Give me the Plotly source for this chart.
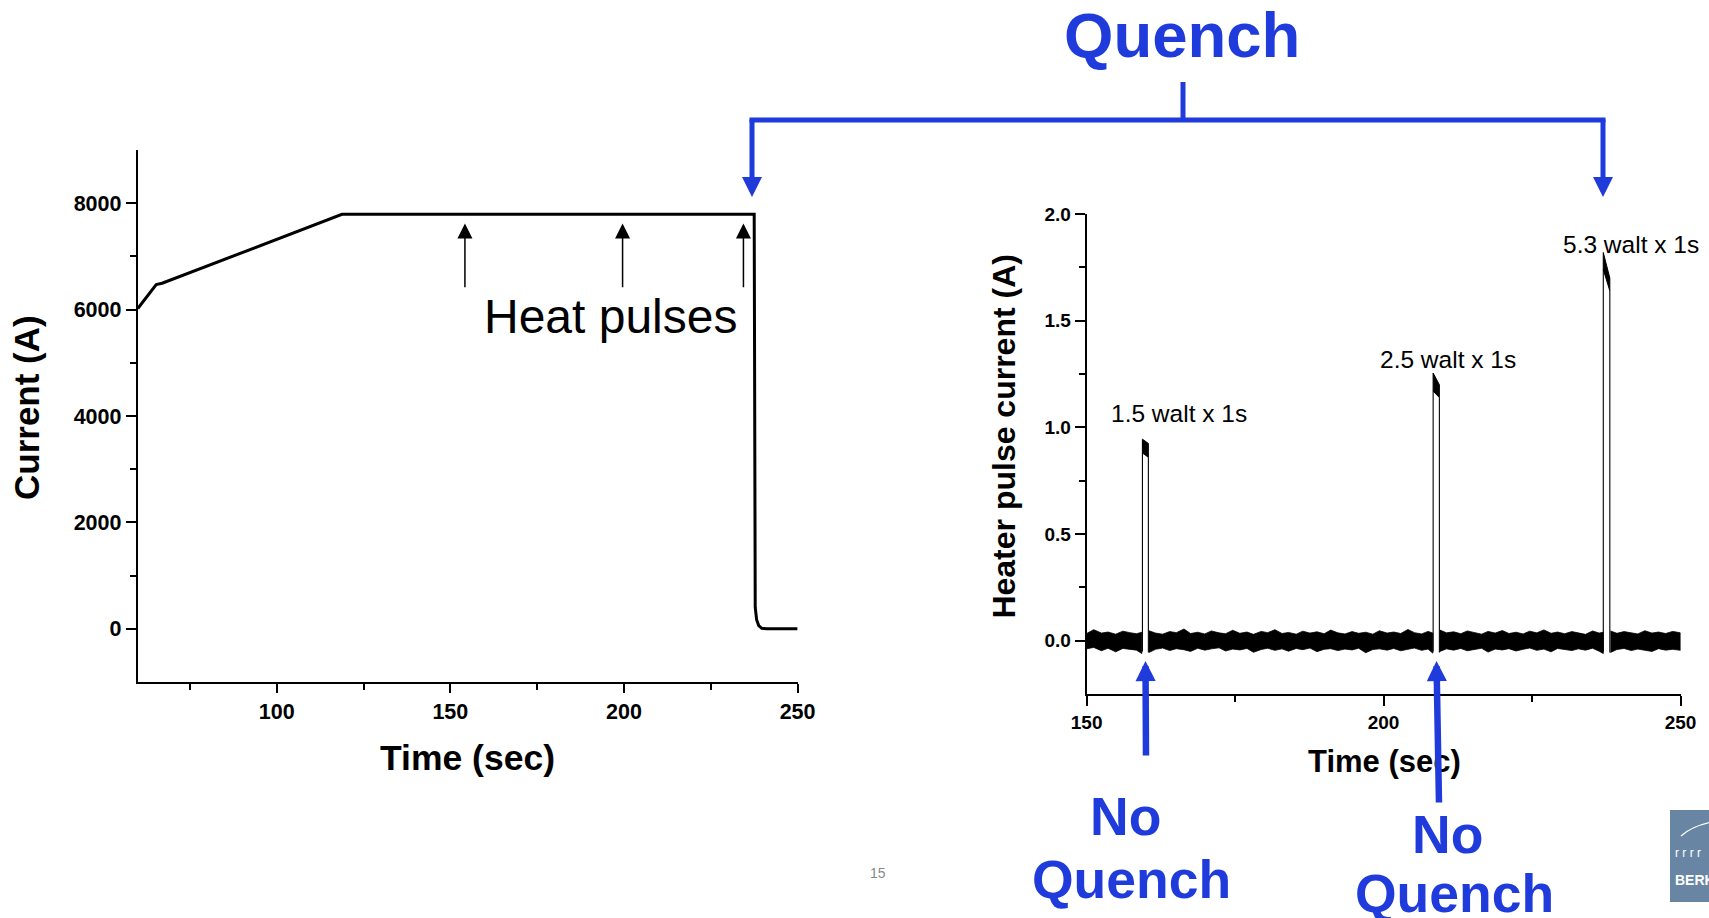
import plotly.graph_objects as go

W, H = 1709, 918
FONT = "Liberation Sans, Arial, sans-serif"
BLUE = "#1F3BDC"

# ---------------- data: left panel (magnet current) ----------------
cur_t = [60.0, 65.3, 67.0, 118.8, 237.5, 237.6, 237.8, 238.2, 238.8, 239.7, 241.1, 250.0]
cur_I = [6020, 6470, 6495, 7790, 7790, 700, 400, 170, 60, 10, 0, 0]

heat_pulse_t = [154.2, 199.6, 234.4]
heat_arrow_tip = [7620, 7620, 7620]
heat_arrow_tail = [6390, 6390, 6390]

left_xticks = [100, 150, 200, 250]
left_xminor = [75, 125, 175, 225]
left_yticks = [0, 2000, 4000, 6000, 8000]
left_yminor = [1000, 3000, 5000, 7000]

# ---------------- data: right panel (heater pulse current) ----------------
pulse_on = [159.4, 208.35, 237.0]
pulse_off = [160.4, 209.4, 238.1]
pulse_top_start = [0.945, 1.255, 1.82]
pulse_top_end = [0.925, 1.20, 1.70]
pulse_floor_start = [0.880, 1.170, 1.740]
pulse_floor_end = [0.860, 1.140, 1.640]
pulse_labels = ["1.5 walt x 1s", "2.5 walt x 1s", "5.3 walt x 1s"]

noise_t = [150.0, 151.2, 152.5, 153.6, 154.9, 156.1, 157.3, 158.4, 159.3,
           160.5, 161.6, 162.8, 164.0, 165.1, 166.4, 167.5, 168.7, 169.9, 171.0,
           172.3, 173.4, 174.6, 175.8, 177.0, 178.1, 179.4, 180.5, 181.7, 182.9,
           184.0, 185.3, 186.4, 187.6, 188.8, 190.0, 191.1, 192.3, 193.5, 194.7,
           195.8, 197.0, 198.2, 199.3, 200.6, 201.7, 202.9, 204.1, 205.2, 206.4,
           207.5, 208.3,
           209.5, 210.6, 211.8, 213.0, 214.1, 215.3, 216.5, 217.6, 218.8, 220.0,
           221.1, 222.3, 223.5, 224.6, 225.8, 227.0, 228.2, 229.3, 230.5, 231.7,
           232.8, 234.0, 235.2, 236.3, 237.0,
           238.2, 239.3, 240.5, 241.7, 242.8, 244.0, 245.2, 246.3, 247.5, 248.7, 250.0]
noise_hi = [0.034, 0.052, 0.036, 0.041, 0.031, 0.045, 0.038, 0.033, 0.040,
            0.047, 0.036, 0.031, 0.043, 0.038, 0.055, 0.034, 0.040, 0.032, 0.046,
            0.037, 0.033, 0.049, 0.035, 0.041, 0.030, 0.044, 0.038, 0.052, 0.034,
            0.039, 0.031, 0.045, 0.036, 0.042, 0.033, 0.050, 0.037, 0.032, 0.043,
            0.035, 0.040, 0.031, 0.047, 0.036, 0.041, 0.034, 0.053, 0.038, 0.032,
            0.044, 0.036,
            0.050, 0.037, 0.042, 0.033, 0.046, 0.038, 0.031, 0.044, 0.036, 0.048,
            0.034, 0.040, 0.032, 0.045, 0.037, 0.051, 0.035, 0.041, 0.033, 0.043,
            0.038, 0.030, 0.046, 0.036, 0.040,
            0.046, 0.035, 0.043, 0.038, 0.032, 0.047, 0.036, 0.041, 0.034, 0.044, 0.037]
noise_lo = [-0.038, -0.031, -0.047, -0.035, -0.052, -0.036, -0.041, -0.044, -0.060,
            -0.055, -0.040, -0.034, -0.046, -0.037, -0.042, -0.050, -0.035, -0.044, -0.038,
            -0.033, -0.048, -0.039, -0.043, -0.036, -0.054, -0.041, -0.035, -0.045, -0.038,
            -0.049, -0.036, -0.042, -0.034, -0.051, -0.040, -0.037, -0.046, -0.039, -0.043,
            -0.035, -0.056, -0.041, -0.038, -0.044, -0.036, -0.047, -0.040, -0.034, -0.045,
            -0.039, -0.058,
            -0.050, -0.038, -0.044, -0.036, -0.047, -0.041, -0.035, -0.053, -0.039, -0.043,
            -0.037, -0.048, -0.040, -0.034, -0.045, -0.039, -0.052, -0.036, -0.042, -0.046,
            -0.038, -0.044, -0.035, -0.049, -0.060,
            -0.055, -0.041, -0.036, -0.046, -0.039, -0.043, -0.050, -0.037, -0.044, -0.040, -0.045]

right_xticks = [150, 200, 250]
right_xminor = [175, 225]
right_yticks = [0.0, 0.5, 1.0, 1.5, 2.0]
right_yminor = [0.25, 0.75, 1.25, 1.75]


def px(x):
    return x / W


def py(y):
    return 1 - y / H


fig = go.Figure()

# left trace
fig.add_trace(go.Scatter(x=cur_t, y=cur_I, mode="lines",
                         line=dict(color="black", width=3),
                         xaxis="x", yaxis="y", hoverinfo="skip", showlegend=False))

# right: baseline noise band split around pulses
bounds = [(150.0, pulse_on[0])]
for i in range(len(pulse_on) - 1):
    bounds.append((pulse_off[i], pulse_on[i + 1]))
bounds.append((pulse_off[-1], 250.0))
band_x, band_y = [], []
for a, b in bounds:
    idx = [i for i, t in enumerate(noise_t) if a <= t <= b]
    xs = [noise_t[i] for i in idx]
    band_x += xs + xs[::-1] + [None]
    band_y += [noise_hi[i] for i in idx] + [noise_lo[i] for i in idx][::-1] + [None]
fig.add_trace(go.Scatter(x=band_x, y=band_y, mode="lines", fill="toself",
                         fillcolor="black", line=dict(color="black", width=0.8),
                         xaxis="x2", yaxis="y2", hoverinfo="skip", showlegend=False))

# pulse edges and noisy tops
edge_x, edge_y = [], []
top_x, top_y = [], []
for i in range(len(pulse_on)):
    edge_x += [pulse_on[i], pulse_on[i], None, pulse_off[i], pulse_off[i], None]
    edge_y += [-0.05, pulse_top_start[i], None, pulse_floor_end[i], -0.055, None]
    top_x += [pulse_on[i], pulse_off[i], pulse_off[i], pulse_on[i], None]
    top_y += [pulse_top_start[i], pulse_top_end[i], pulse_floor_end[i], pulse_floor_start[i], None]
fig.add_trace(go.Scatter(x=edge_x, y=edge_y, mode="lines",
                         line=dict(color="black", width=1.1),
                         xaxis="x2", yaxis="y2", hoverinfo="skip", showlegend=False))
fig.add_trace(go.Scatter(x=top_x, y=top_y, mode="lines", fill="toself",
                         fillcolor="black", line=dict(color="black", width=1.0),
                         xaxis="x2", yaxis="y2", hoverinfo="skip", showlegend=False))

axis_common = dict(showgrid=False, zeroline=False, showline=True, linecolor="black",
                   ticks="outside", tickcolor="black", mirror=False, fixedrange=True,
                   automargin=False)

fig.update_layout(
    width=W, height=H, autosize=False,
    margin=dict(l=0, r=0, t=0, b=0, pad=0),
    paper_bgcolor="white", plot_bgcolor="white",
    showlegend=False,
    xaxis=dict(domain=[px(137.8), px(797.6)], range=[60, 250], anchor="y",
               tickvals=left_xticks, ticktext=[str(v) for v in left_xticks],
               ticklen=9, tickwidth=2, linewidth=2,
               minor=dict(tickvals=left_xminor, ticklen=6, tickwidth=2, ticks="outside", tickcolor="black"),
               tickfont=dict(family=FONT, size=21.5, color="black", weight="bold"),
               **axis_common),
    yaxis=dict(domain=[py(682), py(150)], range=[-1000, 9000], anchor="x",
               tickvals=left_yticks, ticktext=[str(v) for v in left_yticks],
               ticklen=10, tickwidth=2, linewidth=2,
               minor=dict(tickvals=left_yminor, ticklen=6, tickwidth=2, ticks="outside", tickcolor="black"),
               tickfont=dict(family=FONT, size=21.5, color="black", weight="bold"),
               **axis_common),
    xaxis2=dict(domain=[px(1086.6), px(1680.5)], range=[150, 250], anchor="y2",
                tickvals=right_xticks, ticktext=[str(v) for v in right_xticks],
                ticklen=10, tickwidth=1.8, linewidth=1.8,
                minor=dict(tickvals=right_xminor, ticklen=6, tickwidth=1.8, ticks="outside", tickcolor="black"),
                tickfont=dict(family=FONT, size=19, color="black", weight="bold"),
                **axis_common),
    yaxis2=dict(domain=[py(694.1), py(214.1)], range=[-0.25, 2.0], anchor="x2",
                tickvals=right_yticks, ticktext=["%.1f" % v for v in right_yticks],
                ticklen=10, tickwidth=1.8, linewidth=1.8,
                minor=dict(tickvals=right_yminor, ticklen=6, tickwidth=1.8, ticks="outside", tickcolor="black"),
                tickfont=dict(family=FONT, size=19, color="black", weight="bold"),
                **axis_common),
)

ann = []


def text(x, y, s, size, color="black", bold=False, angle=0, xanchor="center"):
    ann.append(dict(x=px(x), y=py(y), xref="paper", yref="paper", text=s, showarrow=False,
                    xanchor=xanchor, yanchor="middle", textangle=angle,
                    font=dict(family=FONT, size=size, color=color,
                              weight="bold" if bold else "normal")))


# axis titles
text(26, 408, "Current (A)", 35, bold=True, angle=-90)
text(467.7, 757.5, "Time (sec)", 35.5, bold=True)
text(1004, 436.6, "Heater pulse current (A)", 32, bold=True, angle=-90)
text(1384.6, 761.7, "Time (sec)", 31, bold=True)

# heat pulses
text(610.8, 316.7, "Heat pulses", 48)
for t, tip, tail in zip(heat_pulse_t, heat_arrow_tip, heat_arrow_tail):
    ann.append(dict(x=t, y=tip, xref="x", yref="y", ax=t, ay=tail, axref="x", ayref="y",
                    text="", showarrow=True, arrowhead=2, arrowsize=2.0, arrowwidth=1.5,
                    arrowcolor="black"))

# pulse labels
label_pos = [(1178.6, 414), (1448, 359), (1631, 245)]
for (lx, ly), s in zip(label_pos, pulse_labels):
    text(lx, ly, s, 24.5)

# Quench bracket
text(1182, 35, "Quench", 63.5, color=BLUE, bold=True)
shapes = [
    dict(type="line", xref="paper", yref="paper", x0=px(749.5), x1=px(1605.5), y0=py(120), y1=py(120),
         line=dict(color=BLUE, width=5)),
    dict(type="line", xref="paper", yref="paper", x0=px(1183), x1=px(1183), y0=py(82), y1=py(120),
         line=dict(color=BLUE, width=5)),
]
for x in (752, 1603):
    ann.append(dict(x=px(x), y=py(197), xref="paper", yref="paper", ax=0, ay=-79,
                    text="", showarrow=True, arrowhead=2, arrowsize=0.8, arrowwidth=5,
                    arrowcolor=BLUE))

# No Quench arrows and labels
ann.append(dict(x=px(1145.5), y=py(661), xref="paper", yref="paper", ax=0.5, ay=96,
                text="", showarrow=True, arrowhead=2, arrowsize=0.62, arrowwidth=6.5, arrowcolor=BLUE))
ann.append(dict(x=px(1436.5), y=py(661), xref="paper", yref="paper", ax=2.5, ay=143,
                text="", showarrow=True, arrowhead=2, arrowsize=0.62, arrowwidth=6.5, arrowcolor=BLUE))
text(1125, 816, "No", 53.5, color=BLUE, bold=True)
text(1131, 879, "Quench", 53.5, color=BLUE, bold=True)
text(1447.5, 834, "No", 53.5, color=BLUE, bold=True)
text(1454, 893, "Quench", 53.5, color=BLUE, bold=True)

# page number
text(878, 873, "15", 14, color="#8a8a8a")

# logo fragment
shapes.append(dict(type="rect", xref="paper", yref="paper", x0=px(1670), x1=px(1712),
                   y0=py(902), y1=py(810), fillcolor="rgb(104,134,164)", line=dict(width=0)))
shapes.append(dict(type="path", xref="paper", yref="paper",
                   path="M %f,%f Q %f,%f %f,%f" % (px(1681), py(836), px(1692), py(826), px(1712), py(822)),
                   line=dict(color="white", width=1.2)))
text(1673, 853, "r r r r", 12, color="white", xanchor="left")
text(1673, 880, "BERKELEY", 14, color="white", bold=True, xanchor="left")

fig.update_layout(annotations=ann, shapes=shapes)
fig.write_html("out.html")
